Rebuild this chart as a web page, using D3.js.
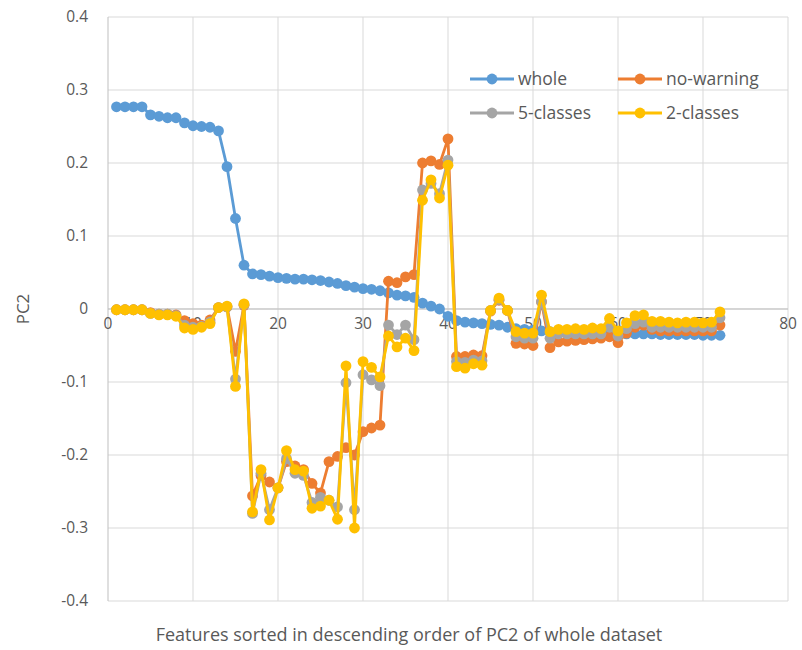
<!DOCTYPE html>
<html>
<head>
<meta charset="utf-8">
<script src="https://cdn.jsdelivr.net/npm/d3@7"></script>
<style>
  html, body { margin: 0; padding: 0; background: #fff; }
  svg text { font-family: "Open Sans", "Noto Sans", sans-serif; fill: #595959; }
</style>
</head>
<body>
<svg id="chart" width="802" height="650"></svg>
<script>
// Feature index 1..72
const features = d3.range(1, 73);

// PC2 loadings per feature for each dataset variant
const whole = [
  0.277, 0.277, 0.277, 0.277, 0.266, 0.264, 0.262, 0.262, 0.255, 0.251,
  0.250, 0.249, 0.244, 0.195, 0.124, 0.060, 0.048, 0.047, 0.045, 0.043,
  0.042, 0.041, 0.041, 0.040, 0.039, 0.037, 0.035, 0.032, 0.030, 0.028,
  0.027, 0.025, 0.022, 0.019, 0.018, 0.016, 0.008, 0.004, 0.000, -0.010,
  -0.016, -0.018, -0.019, -0.020, -0.021, -0.022, -0.025, -0.027, -0.028, -0.029,
  -0.030, -0.031, -0.031, -0.032, -0.032, -0.032, -0.033, -0.033, -0.033, -0.033,
  -0.034, -0.034, -0.034, -0.034, -0.035, -0.035, -0.035, -0.035, -0.035, -0.036,
  -0.036, -0.036
];

const noWarning = [
  -0.001, -0.001, -0.001, -0.001, -0.005, -0.007, -0.007, -0.008, -0.016, -0.020,
  -0.022, -0.015, 0.002, 0.003, -0.058, 0.005, -0.256, -0.228, -0.237, -0.245,
  -0.209, -0.215, -0.220, -0.239, -0.252, -0.209, -0.202, -0.190, -0.200, -0.168,
  -0.163, -0.159, 0.038, 0.036, 0.044, 0.047, 0.200, 0.203, 0.198, 0.233,
  -0.065, -0.065, -0.063, -0.064, -0.003, 0.012, -0.002, -0.047, -0.048, -0.050,
  0.010, -0.053, -0.045, -0.044, -0.043, -0.042, -0.041, -0.040, -0.038, -0.046,
  -0.033, -0.025, -0.022, -0.028, -0.030, -0.030, -0.030, -0.030, -0.030, -0.030,
  -0.030, -0.022
];

const fiveClasses = [
  -0.001, -0.001, -0.001, -0.001, -0.006, -0.007, -0.007, -0.009, -0.022, -0.025,
  -0.024, -0.018, 0.002, 0.003, -0.096, 0.006, -0.280, -0.225, -0.275, -0.245,
  -0.205, -0.225, -0.228, -0.265, -0.258, -0.262, -0.271, -0.101, -0.275, -0.090,
  -0.097, -0.105, -0.022, -0.035, -0.022, -0.042, 0.163, 0.172, 0.158, 0.204,
  -0.072, -0.073, -0.070, -0.071, -0.002, 0.013, -0.002, -0.038, -0.040, -0.040,
  0.010, -0.040, -0.034, -0.034, -0.034, -0.034, -0.034, -0.034, -0.025, -0.037,
  -0.027, -0.020, -0.018, -0.025, -0.025, -0.025, -0.025, -0.025, -0.025, -0.025,
  -0.025, -0.012
];

const twoClasses = [
  -0.001, -0.001, -0.001, -0.001, -0.006, -0.008, -0.008, -0.010, -0.026, -0.028,
  -0.025, -0.020, 0.002, 0.004, -0.106, 0.007, -0.278, -0.220, -0.289, -0.245,
  -0.194, -0.220, -0.222, -0.273, -0.270, -0.262, -0.288, -0.078, -0.300, -0.072,
  -0.080, -0.093, -0.037, -0.052, -0.040, -0.057, 0.149, 0.177, 0.152, 0.197,
  -0.079, -0.081, -0.075, -0.077, -0.002, 0.015, -0.002, -0.031, -0.033, -0.033,
  0.019, -0.031, -0.028, -0.028, -0.027, -0.028, -0.026, -0.027, -0.013, -0.030,
  -0.019, -0.009, -0.008, -0.017, -0.017, -0.018, -0.019, -0.018, -0.018, -0.019,
  -0.018, -0.004
];

const seriesNames = ["whole", "no-warning", "5-classes", "2-classes"];
const seriesValues = [whole, noWarning, fiveClasses, twoClasses];
const seriesColors = ["#5B9BD5", "#ED7D31", "#A5A5A5", "#FFC000"];

const xTicks = [0, 10, 20, 30, 40, 50, 60, 70, 80];
const yTicks = [0.4, 0.3, 0.2, 0.1, 0, -0.1, -0.2, -0.3, -0.4];
const yTickLabels = ["0.4", "0.3", "0.2", "0.1", "0", "-0.1", "-0.2", "-0.3", "-0.4"];

const xTitle = "Features sorted in descending order of PC2 of whole dataset";
const yTitle = "PC2";

const svg = d3.select("#chart");
const plot = { left: 108, right: 788, top: 17, bottom: 601 };

const x = d3.scaleLinear().domain([0, 80]).range([plot.left, plot.right]);
const y = d3.scaleLinear().domain([-0.4, 0.4]).range([plot.bottom, plot.top]);

// Gridlines
const grid = svg.append("g");
grid.selectAll("line.h").data(yTicks).join("line")
  .attr("x1", plot.left).attr("x2", plot.right)
  .attr("y1", d => y(d)).attr("y2", d => y(d))
  .attr("stroke", "#D9D9D9").attr("stroke-width", 1);
grid.selectAll("line.v").data(xTicks.slice(1)).join("line")
  .attr("x1", d => x(d)).attr("x2", d => x(d))
  .attr("y1", plot.top).attr("y2", plot.bottom)
  .attr("stroke", "#D9D9D9").attr("stroke-width", 1);

// Axis lines: vertical at x=0, horizontal at y=0
svg.append("line")
  .attr("x1", x(0)).attr("x2", x(0)).attr("y1", plot.top).attr("y2", plot.bottom)
  .attr("stroke", "#BFBFBF").attr("stroke-width", 1);
svg.append("line")
  .attr("x1", plot.left).attr("x2", plot.right).attr("y1", y(0)).attr("y2", y(0))
  .attr("stroke", "#BFBFBF").attr("stroke-width", 1);

// Y tick labels
svg.append("g").selectAll("text").data(yTicks).join("text")
  .attr("x", 88).attr("y", d => y(d))
  .attr("dy", "0.35em")
  .attr("text-anchor", "end")
  .attr("font-size", 15.5)
  .text((d, i) => yTickLabels[i]);

// X tick labels sit just below the zero line
svg.append("g").selectAll("text").data(xTicks).join("text")
  .attr("x", d => x(d)).attr("y", y(0) + 15)
  .attr("dy", "0.35em")
  .attr("text-anchor", "middle")
  .attr("font-size", 15.5)
  .text(d => d);

// Axis titles
svg.append("text")
  .attr("x", 409).attr("y", 635)
  .attr("dy", "0.35em")
  .attr("text-anchor", "middle")
  .attr("font-size", 18)
  .text(xTitle);
svg.append("text")
  .attr("transform", `translate(23, ${y(0)}) rotate(-90)`)
  .attr("dy", "0.35em")
  .attr("text-anchor", "middle")
  .attr("font-size", 17)
  .text(yTitle);

// Series lines with circle markers
const line = d3.line().x((d, i) => x(features[i])).y(d => y(d));
seriesValues.forEach((vals, s) => {
  const g = svg.append("g");
  g.append("path")
    .datum(vals)
    .attr("d", line)
    .attr("fill", "none")
    .attr("stroke", seriesColors[s])
    .attr("stroke-width", 2.8)
    .attr("stroke-linejoin", "round");
  g.selectAll("circle").data(vals).join("circle")
    .attr("cx", (d, i) => x(features[i]))
    .attr("cy", d => y(d))
    .attr("r", 5.4)
    .attr("fill", seriesColors[s]);
});

// Legend (two columns, two rows) inside the plot's upper right
const legendPos = [[470, 79], [618, 79], [470, 113], [618, 113]];
const legend = svg.append("g");
seriesNames.forEach((name, s) => {
  const [lx, ly] = legendPos[s];
  const item = legend.append("g");
  item.append("line")
    .attr("x1", lx).attr("x2", lx + 44).attr("y1", ly).attr("y2", ly)
    .attr("stroke", seriesColors[s]).attr("stroke-width", 2.8);
  item.append("circle")
    .attr("cx", lx + 22).attr("cy", ly).attr("r", 5.4)
    .attr("fill", seriesColors[s]);
  item.append("text")
    .attr("x", lx + 48).attr("y", ly)
    .attr("dy", "0.35em")
    .attr("font-size", 17.5)
    .text(name);
});
</script>
</body>
</html>
